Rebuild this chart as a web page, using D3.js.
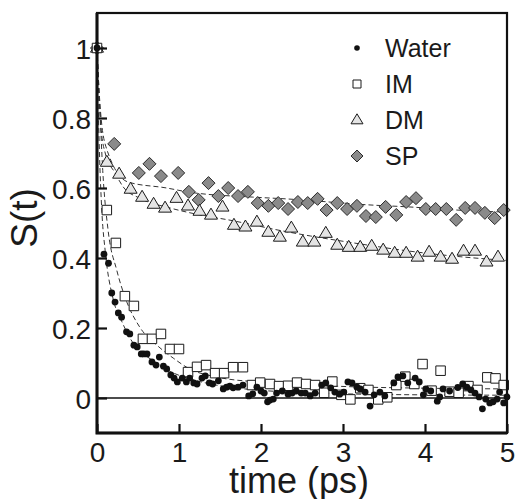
<!DOCTYPE html>
<html>
<head>
<meta charset="utf-8">
<script src="https://cdn.jsdelivr.net/npm/d3@7"></script>
<style>
  body { margin: 0; background: #fff; }
  svg { display: block; font-family: "Liberation Sans", Arial, Helvetica, sans-serif; }
</style>
</head>
<body>
<div id="chart"></div>
<script>
// Data: [time (ps), S(t)]
const waterData = [
  [0, 1], [0.085, 0.411], [0.14, 0.385], [0.18, 0.30], [0.22, 0.274], [0.26, 0.243],
  [0.30, 0.231], [0.36, 0.189], [0.40, 0.183], [0.45, 0.151], [0.49, 0.146], [0.54, 0.126],
  [0.57, 0.126], [0.61, 0.126], [0.67, 0.103], [0.72, 0.094], [0.76, 0.117], [0.81, 0.091],
  [0.85, 0.083], [0.90, 0.066], [0.94, 0.057], [0.98, 0.046], [1.04, 0.057], [1.09, 0.046],
  [1.13, 0.057], [1.18, 0.043], [1.22, 0.040], [1.28, 0.057], [1.32, 0.063], [1.37, 0.043],
  [1.41, 0.040], [1.48, 0.049], [1.54, 0.026], [1.58, 0.031], [1.62, 0.034], [1.66, 0.029],
  [1.72, 0.031], [1.78, 0.037], [1.85, 0.006], [1.90, 0.012], [1.95, 0.031], [2.00, 0.020],
  [2.04, 0.014], [2.08, -0.011], [2.11, -0.006], [2.15, -0.003], [2.19, 0.014], [2.26, 0.020],
  [2.33, 0.011], [2.38, 0.014], [2.43, 0.020], [2.49, 0.014], [2.54, 0.014], [2.60, 0.006],
  [2.66, 0.014], [2.74, 0.037], [2.79, 0.043], [2.85, 0.029], [2.90, 0.017], [2.96, 0.011],
  [3.01, 0.017], [3.06, 0.046], [3.11, 0.043], [3.17, 0.031], [3.21, 0.026], [3.27, 0.017],
  [3.33, -0.023], [3.38, 0.009], [3.45, 0.017], [3.51, 0.006], [3.62, 0.043], [3.67, 0.060],
  [3.73, 0.063], [3.79, 0.043], [3.88, 0.057], [3.93, 0.046], [3.98, 0.009], [4.01, 0.026],
  [4.07, 0.020], [4.15, -0.009], [4.18, 0.003], [4.22, 0.026], [4.30, 0.020], [4.40, 0.030],
  [4.46, 0.040], [4.51, 0.031], [4.56, 0.023], [4.61, 0.014], [4.66, 0.003], [4.70, -0.031],
  [4.74, -0.003], [4.79, -0.014], [4.83, -0.011], [4.88, -0.003], [4.91, 0.017], [4.96, -0.014],
  [5.00, 0.003]
];

const imData = [
  [0, 1], [0.12, 0.537], [0.23, 0.443], [0.34, 0.291], [0.45, 0.263], [0.56, 0.169],
  [0.67, 0.169], [0.78, 0.183], [0.89, 0.140], [1.00, 0.140], [1.11, 0.074], [1.22, 0.089],
  [1.33, 0.094], [1.44, 0.071], [1.55, 0.071], [1.66, 0.088], [1.78, 0.088], [1.89, 0.037],
  [1.99, 0.044], [2.11, 0.040], [2.22, 0.034], [2.33, 0.035], [2.44, 0.044], [2.55, 0.040],
  [2.66, 0.037], [2.77, 0.015], [2.87, 0.047], [2.98, 0.009], [3.09, -0.004], [3.21, 0.028],
  [3.31, 0.023], [3.43, -0.004], [3.54, 0.002], [3.65, 0.037], [3.76, 0.061], [3.87, 0.040],
  [3.97, 0.097], [4.08, 0.021], [4.19, 0.078], [4.30, 0.018], [4.41, 0.015], [4.53, 0.034],
  [4.64, 0.023], [4.76, 0.059], [4.86, 0.056], [4.96, 0.037]
];

const dmData = [
  [0, 1], [0.12, 0.674], [0.27, 0.640], [0.41, 0.597], [0.55, 0.574], [0.69, 0.554],
  [0.83, 0.543], [0.97, 0.571], [1.11, 0.549], [1.25, 0.534], [1.39, 0.523], [1.53, 0.546],
  [1.67, 0.494], [1.81, 0.489], [1.95, 0.503], [2.09, 0.474], [2.23, 0.460], [2.37, 0.486],
  [2.51, 0.446], [2.65, 0.446], [2.79, 0.471], [2.93, 0.437], [3.07, 0.431], [3.21, 0.431],
  [3.35, 0.434], [3.49, 0.423], [3.63, 0.414], [3.77, 0.414], [3.91, 0.403], [4.05, 0.417],
  [4.19, 0.403], [4.33, 0.397], [4.47, 0.420], [4.61, 0.420], [4.75, 0.389], [4.89, 0.403]
];

const spData = [
  [0, 1], [0.21, 0.726], [0.51, 0.643], [0.64, 0.669], [0.78, 0.634], [0.99, 0.643],
  [1.12, 0.589], [1.24, 0.566], [1.36, 0.614], [1.48, 0.577], [1.60, 0.600], [1.72, 0.577],
  [1.84, 0.589], [1.96, 0.557], [2.09, 0.549], [2.21, 0.557], [2.33, 0.540], [2.45, 0.560],
  [2.57, 0.557], [2.69, 0.569], [2.80, 0.537], [2.93, 0.557], [3.05, 0.540], [3.17, 0.549],
  [3.28, 0.520], [3.40, 0.517], [3.52, 0.546], [3.65, 0.523], [3.77, 0.560], [3.89, 0.571],
  [4.01, 0.540], [4.13, 0.540], [4.26, 0.540], [4.38, 0.509], [4.49, 0.543], [4.61, 0.543],
  [4.73, 0.529], [4.85, 0.514], [4.96, 0.537]
];

// Dashed fit curves
const waterFit = [
  [0, 1], [0.03, 0.70], [0.06, 0.53], [0.10, 0.42], [0.20, 0.28], [0.30, 0.22], [0.44, 0.157],
  [0.60, 0.12], [0.73, 0.10], [0.90, 0.075], [1.13, 0.055], [1.5, 0.035], [2.0, 0.022],
  [3.0, 0.012], [4.0, 0.009], [5.0, 0.008]
];
const imFit = [
  [0, 1], [0.03, 0.85], [0.07, 0.65], [0.135, 0.48], [0.24, 0.366], [0.34, 0.289], [0.52, 0.203],
  [0.73, 0.151], [0.93, 0.114], [1.13, 0.083], [1.46, 0.060], [2.0, 0.045], [3.0, 0.033],
  [4.0, 0.028], [5.0, 0.026]
];
const dmFit = [
  [0, 1], [0.02, 0.88], [0.05, 0.77], [0.10, 0.70], [0.22, 0.643], [0.32, 0.603], [0.52, 0.571],
  [0.89, 0.543], [1.26, 0.523], [1.6, 0.509], [2.27, 0.477], [2.6, 0.463], [3.05, 0.446],
  [3.9, 0.417], [4.46, 0.403], [5.0, 0.393]
];
const spFit = [
  [0, 1], [0.02, 0.90], [0.05, 0.80], [0.12, 0.71], [0.38, 0.617], [0.85, 0.60], [1.1, 0.589],
  [1.9, 0.574], [2.3, 0.569], [3.37, 0.551], [3.8, 0.546], [4.39, 0.537], [5.0, 0.531]
];

const xTicks = [0, 1, 2, 3, 4, 5];
const yTicks = [0, 0.2, 0.4, 0.6, 0.8, 1];
const legendLabels = ["Water", "IM", "DM", "SP"];

// Layout
const W = 516, H = 499;
const margin = { top: 13, right: 9, bottom: 66, left: 97 };
const width = W - margin.left - margin.right;
const height = H - margin.top - margin.bottom;

const svg = d3.select("#chart").append("svg")
    .attr("width", W)
    .attr("height", H);

const g = svg.append("g")
    .attr("transform", `translate(${margin.left},${margin.top})`);

const x = d3.scaleLinear().domain([0, 5]).range([0, width]);
const y = d3.scaleLinear().domain([-0.1, 1.1]).range([height, 0]);

// marker shapes (centered at 0,0)
const shapes = {
  square: s => `M${-s/2},${-s/2}h${s}v${s}h${-s}Z`,
  triangle: (w, h) => `M0,${-h*0.62}L${w/2},${h*0.38}L${-w/2},${h*0.38}Z`,
  diamond: s => `M0,${-s/2}L${s/2},0L0,${s/2}L${-s/2},0Z`
};

// zero line
g.append("line")
    .attr("x1", 0).attr("x2", width)
    .attr("y1", y(0)).attr("y2", y(0))
    .attr("stroke", "#111")
    .attr("stroke-width", 1.3);

// fit curves
const line = d3.line()
    .x(d => x(d[0]))
    .y(d => y(d[1]))
    .curve(d3.curveMonotoneX);

[waterFit, imFit, dmFit, spFit].forEach(fit => {
  g.append("path")
      .attr("d", line(fit))
      .attr("fill", "none")
      .attr("stroke", "#333")
      .attr("stroke-width", 1)
      .attr("stroke-dasharray", "5,3");
});

// SP diamonds
g.selectAll(".sp").data(spData).join("path")
    .attr("class", "sp")
    .attr("transform", d => `translate(${x(d[0])},${y(d[1])})`)
    .attr("d", shapes.diamond(13))
    .attr("fill", "#8a8a8a")
    .attr("stroke", "#2a2a2a")
    .attr("stroke-width", 1);

// DM triangles
g.selectAll(".dm").data(dmData).join("path")
    .attr("class", "dm")
    .attr("transform", d => `translate(${x(d[0])},${y(d[1])})`)
    .attr("d", shapes.triangle(13, 11))
    .attr("fill", "#e4e4e4")
    .attr("stroke", "#1a1a1a")
    .attr("stroke-width", 1);

// IM squares
g.selectAll(".im").data(imData).join("path")
    .attr("class", "im")
    .attr("transform", d => `translate(${x(d[0])},${y(d[1])})`)
    .attr("d", shapes.square(9.5))
    .attr("fill", "#fff")
    .attr("stroke", "#1a1a1a")
    .attr("stroke-width", 1);

// Water dots
g.selectAll(".water").data(waterData).join("circle")
    .attr("class", "water")
    .attr("cx", d => x(d[0]))
    .attr("cy", d => y(d[1]))
    .attr("r", 3.4)
    .attr("fill", "#111");

// frame
g.append("rect")
    .attr("x", 0).attr("y", 0)
    .attr("width", width).attr("height", height)
    .attr("fill", "none")
    .attr("stroke", "#111")
    .attr("stroke-width", 2.2);
g.append("path")
    .attr("d", `M0,0V${height}H${width}`)
    .attr("fill", "none")
    .attr("stroke", "#111")
    .attr("stroke-width", 3);

// axes with inward ticks
const xAxis = g.append("g")
    .attr("transform", `translate(0,${height})`)
    .call(d3.axisBottom(x).tickValues(xTicks).tickFormat(d3.format("d")).tickSizeInner(-9).tickSizeOuter(0).tickPadding(9));
const yAxis = g.append("g")
    .call(d3.axisLeft(y).tickValues(yTicks).tickFormat(d => d === 0 || d === 1 ? d3.format("d")(d) : d3.format(".1f")(d)).tickSizeInner(-10).tickSizeOuter(0).tickPadding(6));

[xAxis, yAxis].forEach(ax => {
  ax.select(".domain").remove();
  ax.selectAll(".tick line").attr("stroke", "#111").attr("stroke-width", 2.2);
  ax.selectAll(".tick text")
      .attr("fill", "#1a1a1a")
      .style("font-size", "28px")
      .style("font-family", "'Liberation Sans', Arial, sans-serif");
});
yAxis.selectAll(".tick text").attr("dy", "0.36em");
xAxis.selectAll(".tick text").attr("dy", "0.72em");

// axis labels
svg.append("text")
    .attr("x", margin.left + width / 2 - 3)
    .attr("y", 493)
    .attr("text-anchor", "middle")
    .attr("fill", "#1a1a1a")
    .style("font-size", "36px")
    .text("time (ps)");

svg.append("text")
    .attr("transform", `translate(37,218) rotate(-90)`)
    .attr("text-anchor", "middle")
    .attr("fill", "#1a1a1a")
    .style("font-size", "37px")
    .text("S(t)");

// legend
const legend = svg.append("g")
    .attr("transform", "translate(357,48)");

const legendItems = legend.selectAll(".legend-item")
    .data(legendLabels)
    .join("g")
    .attr("class", "legend-item")
    .attr("transform", (d, i) => `translate(0,${i * 36})`);

legendItems.each(function(d) {
  const item = d3.select(this);
  if (d === "Water") {
    item.append("circle").attr("r", 2.8).attr("fill", "#111");
  } else if (d === "IM") {
    item.append("path").attr("d", shapes.square(8)).attr("fill", "#fff").attr("stroke", "#1a1a1a");
  } else if (d === "DM") {
    item.append("path").attr("d", shapes.triangle(12, 10)).attr("fill", "#e4e4e4").attr("stroke", "#1a1a1a");
  } else {
    item.append("path").attr("d", shapes.diamond(12)).attr("fill", "#8a8a8a").attr("stroke", "#2a2a2a");
  }
});

legendItems.append("text")
    .attr("x", 28)
    .attr("dy", "0.36em")
    .attr("fill", "#1a1a1a")
    .style("font-size", "25px")
    .text(d => d);
</script>
</body>
</html>
